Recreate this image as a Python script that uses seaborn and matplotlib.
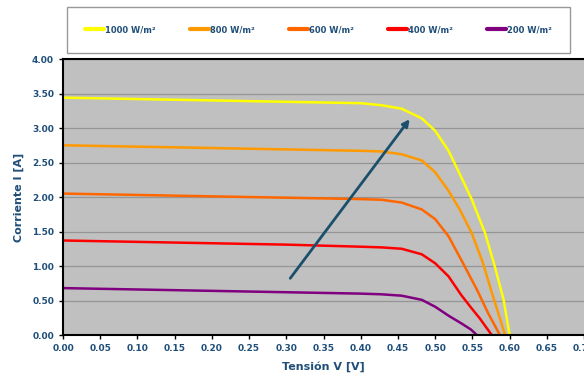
# iv_curves.py
import pandas as pd
import matplotlib.pyplot as plt
import seaborn as sns
from matplotlib.ticker import FormatStrFormatter

# Irradiance levels and the points
levels = ['1000 W/m²', '800 W/m²', '600 W/m²', '400 W/m²', '200 W/m²']
colors = ['#FFFF00', '#FF9900', '#FF6600', '#FF0000', '#800080']

v_1000 = [0.00, 0.10, 0.20, 0.30, 0.40, 0.428, 0.455, 0.482, 0.500, 0.518, 0.531,
          0.549, 0.567, 0.580, 0.592, 0.600]
i_1000 = [3.44, 3.42, 3.40, 3.38, 3.36, 3.33, 3.28, 3.14, 2.96, 2.67, 2.38,
          1.97, 1.48, 1.00, 0.51, 0.00]

v_800 = [0.00, 0.10, 0.20, 0.30, 0.40, 0.428, 0.455, 0.482, 0.500, 0.518, 0.533,
         0.549, 0.564, 0.578, 0.594]
i_800 = [2.75, 2.73, 2.71, 2.69, 2.67, 2.66, 2.62, 2.53, 2.36, 2.09, 1.82,
         1.48, 1.05, 0.55, 0.00]

v_600 = [0.00, 0.10, 0.20, 0.30, 0.40, 0.428, 0.455, 0.482, 0.500, 0.518, 0.535,
         0.556, 0.571, 0.587]
i_600 = [2.05, 2.03, 2.01, 1.99, 1.97, 1.96, 1.92, 1.82, 1.68, 1.43, 1.09,
         0.66, 0.32, 0.00]

v_400 = [0.00, 0.10, 0.20, 0.30, 0.40, 0.428, 0.455, 0.482, 0.500, 0.518, 0.535,
         0.548, 0.560, 0.576]
i_400 = [1.37, 1.35, 1.33, 1.31, 1.28, 1.27, 1.25, 1.17, 1.04, 0.85, 0.58,
         0.40, 0.24, 0.00]

v_200 = [0.00, 0.10, 0.20, 0.30, 0.40, 0.428, 0.455, 0.482, 0.500, 0.518, 0.535,
         0.548, 0.556]
i_200 = [0.68, 0.66, 0.64, 0.62, 0.60, 0.59, 0.57, 0.51, 0.41, 0.28, 0.17,
         0.08, 0.00]

# Arrow showing increasing irradiance (tail, head)
arrow_v = [0.303, 0.468]
arrow_i = [0.79, 3.16]

# Build long-form table
frames = []
for lvl, v, i in zip(levels, [v_1000, v_800, v_600, v_400, v_200],
                     [i_1000, i_800, i_600, i_400, i_200]):
    frames.append(pd.DataFrame({'V': v, 'I': i, 'Irradiancia': lvl}))
df = pd.concat(frames, ignore_index=True)

text_color = '#1F4E79'

sns.set_style('white')
fig = plt.figure(figsize=(5.84, 3.76), dpi=100)
ax = fig.add_axes([0.108, 0.109, 0.892, 0.734])
ax.set_facecolor('#C0C0C0')

sns.lineplot(data=df, x='V', y='I', hue='Irradiancia', hue_order=levels,
             palette=colors, sort=False, linewidth=1.8, ax=ax, legend=False,
             solid_joinstyle='round')

ax.annotate('', xy=(arrow_v[1], arrow_i[1]), xytext=(arrow_v[0], arrow_i[0]),
            arrowprops=dict(arrowstyle='-|>', color='#1B4F6B', lw=2,
                            mutation_scale=10))

ax.set_xlim(0, 0.70)
ax.set_ylim(0, 4.0)
ax.set_xticks([k * 0.05 for k in range(15)])
ax.set_yticks([k * 0.5 for k in range(9)])
ax.xaxis.set_major_formatter(FormatStrFormatter('%.2f'))
ax.yaxis.set_major_formatter(FormatStrFormatter('%.2f'))
ax.grid(axis='y', color='#959595', linewidth=0.9)
ax.set_axisbelow(True)
ax.tick_params(axis='both', direction='out', length=3, width=1, color='black',
               labelsize=6.5, labelcolor=text_color, bottom=True, left=True)
for lab in ax.get_xticklabels() + ax.get_yticklabels():
    lab.set_fontweight('bold')
for side in ['left', 'bottom', 'top']:
    ax.spines[side].set_color('black')
    ax.spines[side].set_linewidth(1.5)
ax.spines['right'].set_visible(False)

ax.set_xlabel('Tensión V [V]', fontsize=8, fontweight='bold', color=text_color, labelpad=6)
ax.set_ylabel('Corriente I [A]', fontsize=8, fontweight='bold', color=text_color, labelpad=6)

# Legend in a box above the plot
handles = [plt.Line2D([], [], color=c, linewidth=3) for c in colors]
leg = fig.legend(handles, levels, loc='center', ncol=5,
                 bbox_to_anchor=(0.545, 0.921),
                 frameon=True, fancybox=False, handlelength=2.3, handletextpad=0.1,
                 columnspacing=4.1, prop={'size': 6, 'weight': 'bold'},
                 borderaxespad=0, borderpad=2.2)
leg.get_frame().set_edgecolor('#808080')
leg.get_frame().set_linewidth(1)
for t in leg.get_texts():
    t.set_color(text_color)

plt.savefig('out.png', dpi=100)
